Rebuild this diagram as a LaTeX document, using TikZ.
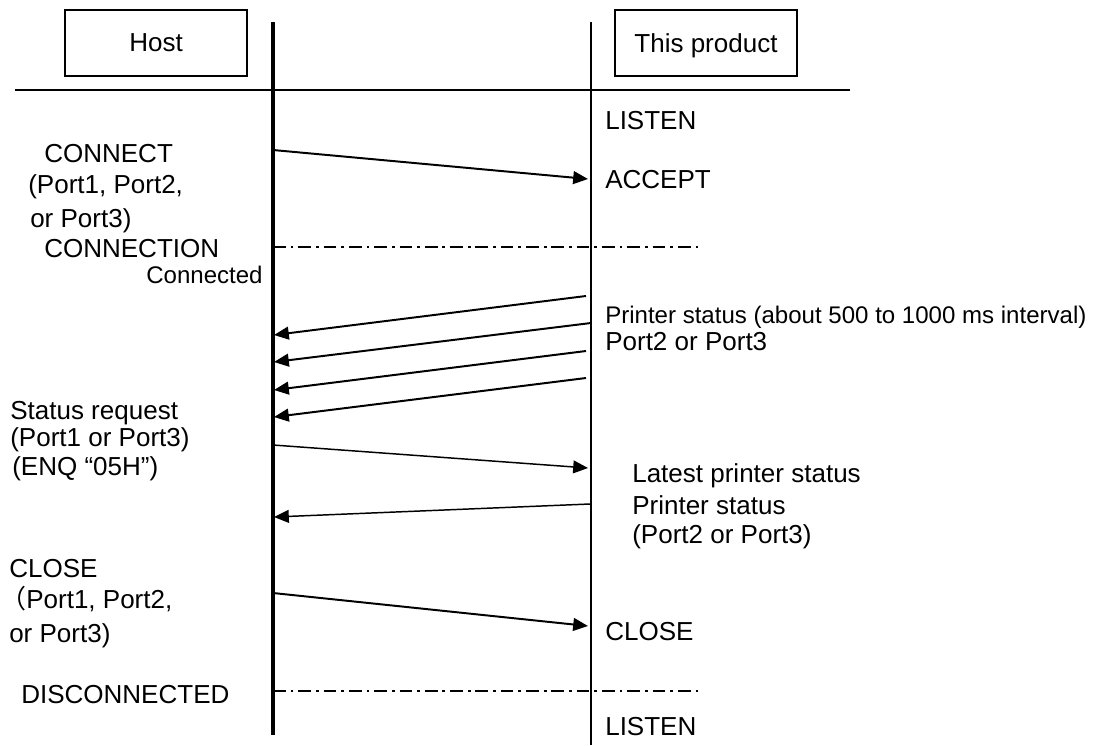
\documentclass[tikz,border=0pt]{standalone}
\usepackage{fontspec}
\setmainfont{Liberation Sans}
\newfontfamily\cjk{Noto Sans CJK JP}
\usetikzlibrary{arrows.meta, positioning}

\begin{document}
\begin{tikzpicture}[x=0.025cm, y=-0.025cm,
  party/.style={draw, line width=1.1pt, minimum width=4.55cm, minimum height=1.65cm, text depth=0pt, font=\fontsize{18.5}{22}\selectfont},
  lab/.style={anchor=base west, inner sep=0pt, font=\fontsize{18.5}{22}\selectfont},
  slab/.style={lab, font=\fontsize{17.1}{20}\selectfont},
  msg/.style={-{Triangle[length=0.37cm, width=0.32cm]}, line width=1.4pt},
  tmsg/.style={msg, line width=1.05pt},
  phase/.style={line width=1.4pt, dash pattern=on 9pt off 3.5pt on 2pt off 3.5pt}]
\useasboundingbox (0,0) rectangle (1093,745);
% parties and lifelines
\node[party] (host) at (156,43) {Host};
\node[party] (prod) at (706,43) {This product};
\coordinate (hTop) at (273,22); \coordinate (hBot) at (273,735);
\coordinate (pTop) at (591,22); \coordinate (pBot) at (591,745);
\coordinate (rL) at (15,90); \coordinate (rR) at (850,90);
\draw[line width=2.2pt] (hTop) -- (hBot);
\draw[line width=1.6pt] (pTop) -- (pBot);
\draw[line width=1.9pt] (rL) -- (rR);
% connect
\node[lab] (listen1) at (605,129) {LISTEN};
\node[lab] (conn) at (44,162) {CONNECT};
\node[lab] (conn2) at (28,193) {(Port1, Port2,};
\node[lab] (conn3) at (30,227) {or Port3)};
\node[lab] (accept) at (605,188) {ACCEPT};
\coordinate (h1) at (273,150); \coordinate (p1) at (588,179);
\draw[msg] (h1) -- (p1);
\node[lab] (cntn) at (44,257) {CONNECTION};
\node[slab] (cntd) at (146,283) {Connected};
\coordinate (d1a) at (273,247); \coordinate (d1b) at (703,247);
\draw[phase] (d1a) -- (d1b);
% periodic status
\node[slab] (pst) at (605,323) {Printer status (about 500 to 1000 ms interval)};
\node[lab] (pst2) at (605,350) {Port2 or Port3};
\coordinate (p2) at (586,296); \coordinate (h2) at (274,335);
\coordinate (p3) at (591,323); \coordinate (h3) at (274,362);
\coordinate (p4) at (586,351); \coordinate (h4) at (274,390);
\coordinate (p5) at (586,378); \coordinate (h5) at (274,417);
\draw[msg] (p2) -- (h2); \draw[msg] (p3) -- (h3); \draw[msg] (p4) -- (h4); \draw[msg] (p5) -- (h5);
% status request
\node[lab] (sreq) at (10,419) {Status request};
\node[lab] (sreq2) at (10,446) {(Port1 or Port3)};
\node[lab] (sreq3) at (12,475) {(ENQ “05H”)};
\coordinate (h6) at (273,445); \coordinate (p6) at (588,468);
\draw[tmsg] (h6) -- (p6);
\node[lab] (lst) at (632,482) {Latest printer status};
\node[lab] (lst2) at (632,514) {Printer status};
\node[lab] (lst3) at (632,543) {(Port2 or Port3)};
\coordinate (p7) at (590,504); \coordinate (h7) at (274,517);
\draw[tmsg] (p7) -- (h7);
% close
\node[lab] (cls) at (9,577) {CLOSE};
\node[lab] (cls2) at (0,608) {{\cjk （}Port1, Port2,};
\node[lab] (cls3) at (9,642) {or Port3)};
\coordinate (h8) at (273,593); \coordinate (p8) at (588,626);
\draw[msg] (h8) -- (p8);
\node[lab] (cls4) at (605,640) {CLOSE};
\node[lab] (disc) at (21,703) {DISCONNECTED};
\coordinate (d2a) at (273,691); \coordinate (d2b) at (703,691);
\draw[phase] (d2a) -- (d2b);
\node[lab] (listen2) at (605,735) {LISTEN};
\end{tikzpicture}
\end{document}
